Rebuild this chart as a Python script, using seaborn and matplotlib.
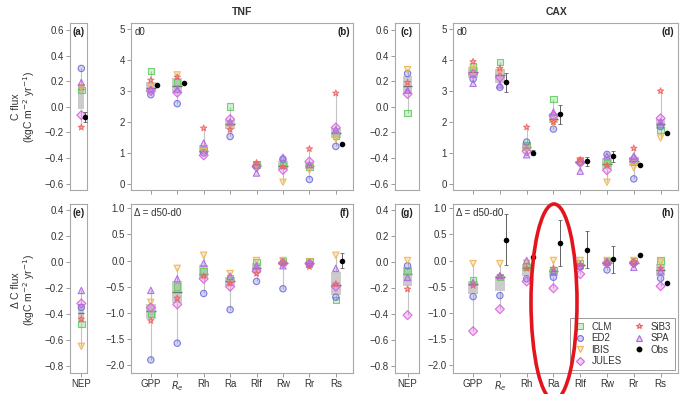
import numpy as np
import pandas as pd
import matplotlib
matplotlib.use("Agg")
import matplotlib.pyplot as plt
import seaborn as sns
from matplotlib.patches import Ellipse
from matplotlib.lines import Line2D

# ---------------- data ----------------
models = ["CLM", "ED2", "IBIS", "JULES", "SiB3", "SPA"]
categories = ["GPP", "Re", "Rh", "Ra", "Rlf", "Rw", "Rr", "Rs"]
cat_labels = ["GPP", "$R_e$", "Rh", "Ra", "Rlf", "Rw", "Rr", "Rs"]

# TNF d0  (values in category order)
tnf_d0_CLM   = [3.65, 3.30, 1.10, 2.50, 0.62, 0.60, 0.55, 1.55]
tnf_d0_ED2   = [2.88, 2.59, 1.00, 1.53, 0.60, 0.80, 0.14, 1.21]
tnf_d0_IBIS  = [3.15, 3.52, 1.05, 1.85, 0.60, 0.05, 0.45, 1.45]
tnf_d0_JULES = [3.00, 2.95, 0.92, 2.09, 0.55, 0.45, 0.72, 1.82]
tnf_d0_SiB3  = [3.35, 3.45, 1.80, 1.75, 0.68, 0.55, 1.13, 2.93]
tnf_d0_SPA   = [3.05, 3.05, 1.32, 2.00, 0.35, 0.86, 0.62, 1.75]
tnf_d0_obs     = [3.18, 3.27, np.nan, np.nan, np.nan, np.nan, np.nan, 1.30]
tnf_d0_obs_err = [np.nan] * 8

# CAX d0
cax_d0_CLM   = [3.79, 3.93, 1.25, 2.74, 0.75, 0.68, 0.70, 1.75]
cax_d0_ED2   = [3.39, 3.12, 1.35, 1.77, 0.70, 0.95, 0.16, 1.85]
cax_d0_IBIS  = [3.70, 3.60, 1.10, 1.95, 0.72, 0.05, 0.52, 1.48]
cax_d0_JULES = [3.55, 3.44, 1.05, 2.20, 0.68, 0.44, 0.80, 2.12]
cax_d0_SiB3  = [3.95, 3.73, 1.83, 2.00, 0.78, 0.60, 1.15, 3.00]
cax_d0_SPA   = [3.25, 3.20, 0.94, 2.32, 0.41, 0.90, 0.90, 2.00]
cax_d0_obs     = [np.nan, 3.28, 1.01, 2.25, 0.73, 0.89, 0.62, 1.64]
cax_d0_obs_err = [np.nan, 0.30, 0.08, 0.30, 0.15, 0.18, np.nan, np.nan]

# TNF delta (d50-d0)
tnf_dd_CLM   = [-1.02, -0.50, -0.20, -0.33, -0.03, -0.02, -0.02, -0.76]
tnf_dd_ED2   = [-1.90, -1.58, -0.63, -0.94, -0.40, -0.54, -0.05, -0.70]
tnf_dd_IBIS  = [-0.80, -0.15, 0.10, -0.25, 0.00, 0.00, -0.03, 0.10]
tnf_dd_JULES = [-0.90, -0.84, -0.35, -0.50, -0.20, -0.05, -0.06, -0.50]
tnf_dd_SiB3  = [-1.15, -0.72, -0.30, -0.44, -0.25, -0.04, -0.12, -0.45]
tnf_dd_SPA   = [-0.57, -0.35, -0.05, -0.30, -0.10, -0.10, -0.07, -0.15]
tnf_dd_obs     = [np.nan] * 7 + [0.0]
tnf_dd_obs_err = [np.nan] * 7 + [0.15]

# CAX delta (d50-d0)
cax_dd_CLM   = [-0.38, -0.32, -0.12, -0.18, -0.05, -0.02, -0.01, 0.00]
cax_dd_ED2   = [-0.69, -0.67, -0.35, -0.32, -0.12, -0.18, -0.05, -0.34]
cax_dd_IBIS  = [-0.06, -0.06, -0.05, 0.00, 0.00, 0.00, 0.00, -0.03]
cax_dd_JULES = [-1.35, -0.93, -0.40, -0.53, -0.26, -0.05, -0.05, -0.49]
cax_dd_SiB3  = [-0.48, -0.30, -0.15, -0.15, -0.08, -0.05, -0.03, -0.15]
cax_dd_SPA   = [-0.42, -0.29, 0.00, -0.22, -0.10, -0.03, -0.13, -0.20]
cax_dd_obs     = [np.nan, 0.40, 0.07, 0.34, 0.21, 0.02, 0.11, -0.43]
cax_dd_obs_err = [np.nan, 0.48, np.nan, 0.44, 0.36, 0.26, np.nan, np.nan]

# NEP (model order)
nep_tnf_d0 = [0.13, 0.30, 0.15, -0.065, -0.16, 0.19]
nep_tnf_d0_obs, nep_tnf_d0_obs_err = -0.08, 0.04
nep_cax_d0 = [-0.05, 0.26, 0.29, 0.10, 0.19, 0.13]
nep_tnf_dd = [-0.48, -0.35, -0.65, -0.32, -0.44, -0.22]
nep_cax_dd = [-0.07, -0.03, 0.01, -0.41, -0.21, -0.12]

palette = {"CLM": "#66cc66", "ED2": "#7070d8", "IBIS": "#f0b454",
           "JULES": "#d860dc", "SiB3": "#f06464", "SPA": "#ac68e0"}
markers = {"CLM": "s", "ED2": "o", "IBIS": "v", "JULES": "D",
           "SiB3": "*", "SPA": "^"}

# ---------------- style ----------------
sns.set_theme(style="white")
plt.rcParams["font.family"] = ["Liberation Sans", "DejaVu Sans"]

W, H = 680, 394
fig = plt.figure(figsize=(6.8, 3.94), dpi=100)


def px_axes(x0, x1, y0, y1):
    return fig.add_axes([x0 / W, 1 - y1 / H, (x1 - x0) / W, (y1 - y0) / H])


def draw(ax, cats, vals, obs=None, obs_err=None, xlim=None, ylim=None,
         yticks=None, fmt="{:.1f}", show_labels=False, labels=None):
    rows = []
    for mi, m in enumerate(models):
        for ci, c in enumerate(cats):
            rows.append({"cat": c, "xi": float(ci), "model": m, "value": vals[mi][ci]})
    df = pd.DataFrame(rows)
    sns.boxplot(data=df, x="cat", y="value", order=cats, width=0.36,
                color="#c8c8c8", linecolor="#c4c4c4", linewidth=0.8,
                whis=(0, 100), showcaps=False, showfliers=False,
                boxprops=dict(facecolor="#cbcbcb", edgecolor="none"),
                medianprops=dict(color="#707070", linewidth=1.0),
                ax=ax)
    n0 = len(ax.collections)
    sns.scatterplot(data=df, x="xi", y="value", hue="model", style="model",
                    hue_order=models, style_order=models, palette=palette,
                    markers=markers, s=21, linewidth=0.8, legend=False,
                    ax=ax, zorder=3)
    for coll in ax.collections[n0:]:
        fc = np.array(coll.get_facecolors())
        if len(fc):
            ec = fc.copy()
            ec[:, 3] = 0.9
            coll.set_edgecolors(ec)
            fc2 = fc.copy()
            fc2[:, 3] = 0.3
            coll.set_facecolors(fc2)
    if obs is not None:
        ox = np.arange(len(cats)) + 0.24
        oy = np.array(obs, dtype=float)
        if obs_err is not None:
            oe = np.array(obs_err, dtype=float)
            ok = ~np.isnan(oe)
            ax.errorbar(ox[ok], oy[ok], yerr=oe[ok], fmt="none",
                        ecolor="#606060", elinewidth=0.7, capsize=1.5,
                        capthick=0.6, zorder=3.5)
        sns.scatterplot(x=ox, y=oy, color="black", s=16, linewidth=0,
                        ax=ax, zorder=4, legend=False)
    ax.set_xlim(*xlim)
    ax.set_ylim(*ylim)
    ax.set_yticks(yticks)
    ax.set_yticklabels([fmt.format(v).replace("-", "\u2212") for v in yticks])
    ax.set_xticks(np.arange(len(cats)))
    if show_labels:
        ax.set_xticklabels(labels)
    else:
        ax.set_xticklabels([])
    ax.set_xlabel("")
    ax.set_ylabel("")
    ax.tick_params(axis="both", length=3, width=0.6, color="#8a8a8a",
                   labelsize=7, labelcolor="#333333", pad=1.5,
                   bottom=True, left=True)
    for sp in ax.spines.values():
        sp.set_color("#a8a8a8")
        sp.set_linewidth(0.8)


top_y = (23, 190)
bot_y = (204, 373)
sm_lim = (-0.7, 0.35)
big_lim = (-0.75, 7.65)

# (a)
ax_a = px_axes(70, 87, *top_y)
draw(ax_a, ["NEP"], [[v] for v in nep_tnf_d0], obs=[nep_tnf_d0_obs],
     obs_err=[nep_tnf_d0_obs_err], xlim=sm_lim, ylim=(-0.65, 0.655),
     yticks=[-0.6, -0.4, -0.2, 0.0, 0.2, 0.4, 0.6])
ax_a.tick_params(axis="x", bottom=False)
# (b)
ax_b = px_axes(131, 353, *top_y)
draw(ax_b, categories,
     [tnf_d0_CLM, tnf_d0_ED2, tnf_d0_IBIS, tnf_d0_JULES, tnf_d0_SiB3, tnf_d0_SPA],
     obs=tnf_d0_obs, obs_err=tnf_d0_obs_err, xlim=big_lim, ylim=(-0.2, 5.2),
     yticks=[0, 1, 2, 3, 4, 5], fmt="{:.0f}")
# (c)
ax_c = px_axes(395, 419, *top_y)
draw(ax_c, ["NEP"], [[v] for v in nep_cax_d0], xlim=(-0.55, 0.5),
     ylim=(-0.65, 0.655), yticks=[-0.6, -0.4, -0.2, 0.0, 0.2, 0.4, 0.6])
ax_c.tick_params(axis="x", bottom=False)
# (d)
ax_d = px_axes(453, 678, *top_y)
draw(ax_d, categories,
     [cax_d0_CLM, cax_d0_ED2, cax_d0_IBIS, cax_d0_JULES, cax_d0_SiB3, cax_d0_SPA],
     obs=cax_d0_obs, obs_err=cax_d0_obs_err, xlim=big_lim, ylim=(-0.2, 5.2),
     yticks=[0, 1, 2, 3, 4, 5], fmt="{:.0f}")
# (e)
ax_e = px_axes(70, 87, *bot_y)
draw(ax_e, ["NEP"], [[v] for v in nep_tnf_dd], xlim=sm_lim,
     ylim=(-0.855, 0.445), yticks=[-0.8, -0.6, -0.4, -0.2, 0.0, 0.2, 0.4],
     show_labels=True, labels=["NEP"])
# (f)
ax_f = px_axes(131, 353, *bot_y)
draw(ax_f, categories,
     [tnf_dd_CLM, tnf_dd_ED2, tnf_dd_IBIS, tnf_dd_JULES, tnf_dd_SiB3, tnf_dd_SPA],
     obs=tnf_dd_obs, obs_err=tnf_dd_obs_err, xlim=big_lim, ylim=(-2.15, 1.08),
     yticks=[-2.0, -1.5, -1.0, -0.5, 0.0, 0.5, 1.0], show_labels=True,
     labels=cat_labels)
# (g)
ax_g = px_axes(395, 419, *bot_y)
draw(ax_g, ["NEP"], [[v] for v in nep_cax_dd], xlim=(-0.55, 0.5),
     ylim=(-0.855, 0.445), yticks=[-0.8, -0.6, -0.4, -0.2, 0.0, 0.2, 0.4],
     show_labels=True, labels=["NEP"])
# (h)
ax_h = px_axes(453, 678, *bot_y)
draw(ax_h, categories,
     [cax_dd_CLM, cax_dd_ED2, cax_dd_IBIS, cax_dd_JULES, cax_dd_SiB3, cax_dd_SPA],
     obs=cax_dd_obs, obs_err=cax_dd_obs_err, xlim=big_lim, ylim=(-2.15, 1.08),
     yticks=[-2.0, -1.5, -1.0, -0.5, 0.0, 0.5, 1.0], show_labels=True,
     labels=cat_labels)

# panel labels
for ax, lab in [(ax_a, "(a)"), (ax_c, "(c)"), (ax_e, "(e)"), (ax_g, "(g)")]:
    ax.text(0.5, 0.975, lab, transform=ax.transAxes, ha="center", va="top",
            fontsize=7, fontweight="bold", color="#222222")
for ax, lab in [(ax_b, "(b)"), (ax_d, "(d)"), (ax_f, "(f)"), (ax_h, "(h)")]:
    ax.text(0.985, 0.975, lab, transform=ax.transAxes, ha="right", va="top",
            fontsize=7, fontweight="bold", color="#222222")
for ax in (ax_b, ax_d):
    ax.text(0.015, 0.975, "d0", transform=ax.transAxes, ha="left", va="top",
            fontsize=7, color="#333333")
for ax in (ax_f, ax_h):
    ax.text(0.015, 0.975, "\u0394 = d50-d0", transform=ax.transAxes, ha="left",
            va="top", fontsize=7, color="#333333")

# titles
fig.text(242 / W, 1 - 12 / H, "TNF", ha="center", va="center", fontsize=7.5,
         fontweight="bold", color="#333333")
fig.text(556 / W, 1 - 12 / H, "CAX", ha="center", va="center", fontsize=7.5,
         fontweight="bold", color="#333333")

# y labels
fig.text(24 / W, 1 - 107 / H, "C flux\n(kgC m$^{-2}$ yr$^{-1}$)", rotation=90,
         ha="center", va="center", fontsize=7.5, color="#333333",
         linespacing=1.1)
fig.text(24 / W, 1 - 290 / H, "\u0394 C flux\n(kgC m$^{-2}$ yr$^{-1}$)",
         rotation=90, ha="center", va="center", fontsize=7.5, color="#333333",
         linespacing=1.1)

# legend
handles = []
for m in models:
    c = matplotlib.colors.to_rgb(palette[m])
    handles.append(Line2D([], [], ls="", marker=markers[m], markersize=4.2,
                          markerfacecolor=(*c, 0.3), markeredgecolor=c,
                          markeredgewidth=0.8, label=m))
handles.append(Line2D([], [], ls="", marker="o", markersize=3.2,
                      markerfacecolor="black", markeredgecolor="black",
                      label="Obs"))
leg = ax_h.legend(handles=handles, ncol=2, loc="lower right",
                  fontsize=7, frameon=True, fancybox=False, framealpha=1,
                  edgecolor="#9a9a9a", borderaxespad=0.3, handletextpad=0.6,
                  labelspacing=0.15, columnspacing=1.2, handlelength=1.2,
                  borderpad=0.4)
leg.get_frame().set_linewidth(0.7)
for t in leg.get_texts():
    t.set_color("#333333")

# red ellipse annotation
ell = Ellipse((554 / W, 1 - 302 / H), 46 / W, 196 / H, transform=fig.transFigure,
              fill=False, edgecolor="#e3141c", linewidth=2.6, zorder=10)
fig.patches.append(ell)

fig.savefig("out.png", dpi=100)
